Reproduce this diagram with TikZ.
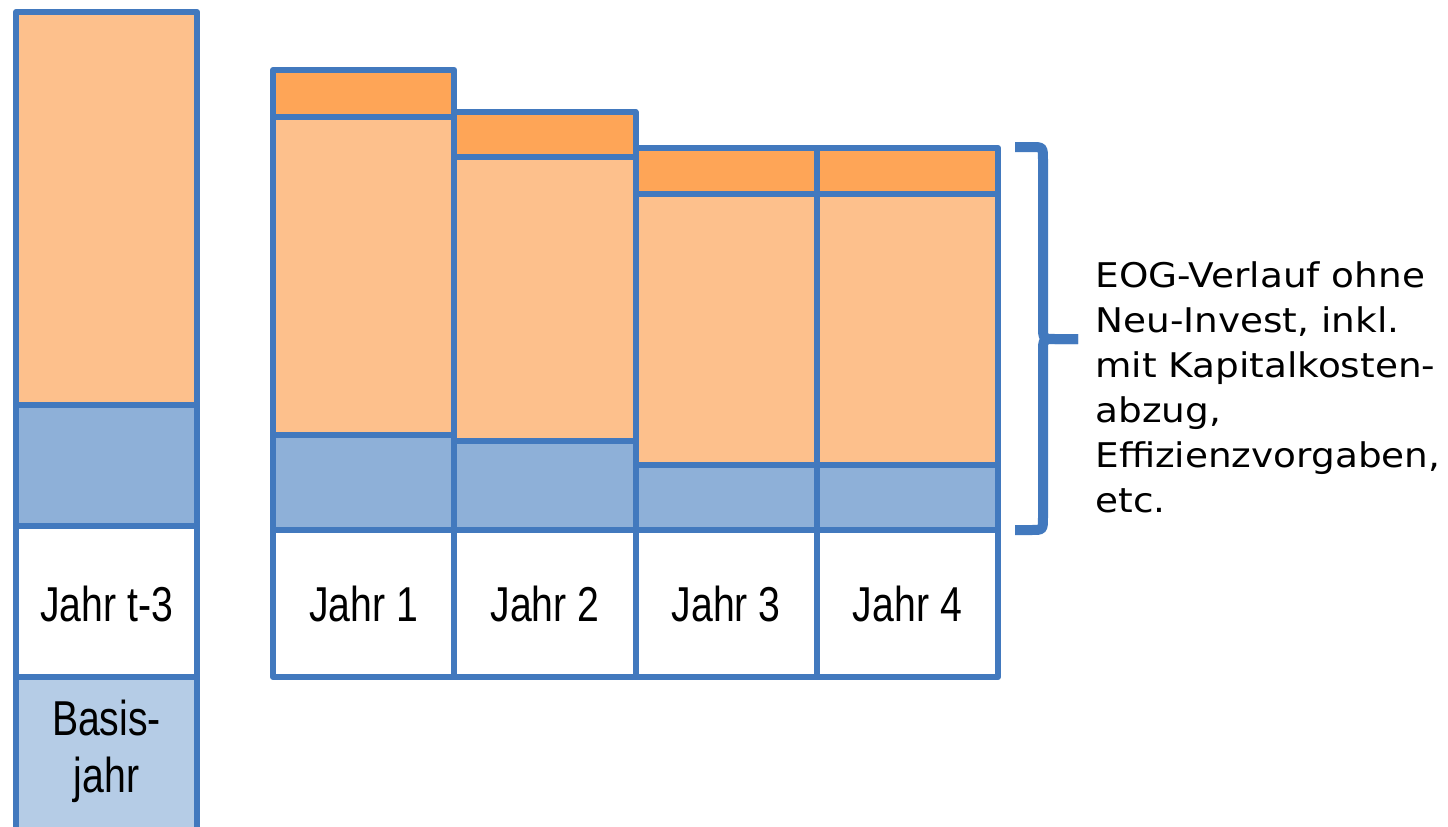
\documentclass[tikz,border=0pt]{standalone}
\usepackage{fontspec}
\setmainfont{DejaVu Sans}[FakeStretch=1.1]
\newfontfamily\barfont{Liberation Sans}
\usetikzlibrary{positioning}

\definecolor{rahmen}{HTML}{4279BE}
\definecolor{hellorange}{HTML}{FDC08C}
\definecolor{dunkelorange}{HTML}{FEA557}
\definecolor{mittelblau}{HTML}{8EB0D8}
\definecolor{hellblau}{HTML}{B5CCE6}

% schmale Beschriftung in den Balken
\newcommand{\jahrlabel}[1]{\scalebox{0.8}[1]{#1}}

\begin{document}
\begin{tikzpicture}[x=0.5pt, y=-0.5pt,
	cell/.style={draw=rahmen, line width=3pt, line join=round},
	jahrtext/.style={font=\barfont\fontsize{24.5}{28.5}\selectfont, inner sep=0pt, align=center},
	klammer/.style={draw=rahmen, line width=5pt}]

	\clip (0,0) rectangle (1448,826);

	% Basisjahr links
	\draw[cell, fill=hellorange] (16,12) rectangle (197,405);
	\draw[cell, fill=mittelblau] (16,405) rectangle (197,526);
	\draw[cell, fill=white] (16,526) rectangle (197,677);
	\draw[cell, fill=hellblau] (16,677) rectangle (197,850);
	\node[jahrtext] (t3) at (106.5,604) {\jahrlabel{Jahr t-3}};
	\node[jahrtext] (basis) at (106.5,751) {\jahrlabel{Basis-}\\ \jahrlabel{jahr}};

	% Jahre 1 bis 4
	\foreach \i/\oben/\teil/\unten in {1/70/117/435, 2/112/157/441, 3/148/194/465, 4/148/194/465} {
		\pgfmathsetmacro{\links}{273+(\i-1)*181.25}
		\pgfmathsetmacro{\rechts}{\links+181.25}
		\draw[cell, fill=dunkelorange] (\links,\oben) rectangle (\rechts,\teil);
		\draw[cell, fill=hellorange] (\links,\teil) rectangle (\rechts,\unten);
		\draw[cell, fill=mittelblau] (\links,\unten) rectangle (\rechts,530);
		\draw[cell, fill=white] (\links,530) rectangle (\rechts,677);
		\node[jahrtext] (jahr\i) at ({(\links+\rechts)/2},604) {\jahrlabel{Jahr \i}};
	}

	% geschweifte Klammer
	\coordinate (spitze) at (1078,339);
	\draw[klammer] (1015,147) -- (1031,147) .. controls (1043,147) .. (1043,160)
		-- (1043,326) .. controls (1043,339) .. (1056,339) -- (spitze);
	\draw[klammer] (spitze) -- (1056,339) .. controls (1043,339) .. (1043,352)
		-- (1043,517) .. controls (1043,530) .. (1031,530) -- (1015,530);

	\node[anchor=north west, align=left, inner sep=0pt,
		font=\fontsize{17}{22.5}\selectfont] (eog) at (1095,261)
		{EOG-Verlauf ohne\\ Neu-Invest, inkl.\\ mit Kapitalkosten-\\ abzug,\\ Effizienzvorgaben,\\ etc.};
\end{tikzpicture}
\end{document}
